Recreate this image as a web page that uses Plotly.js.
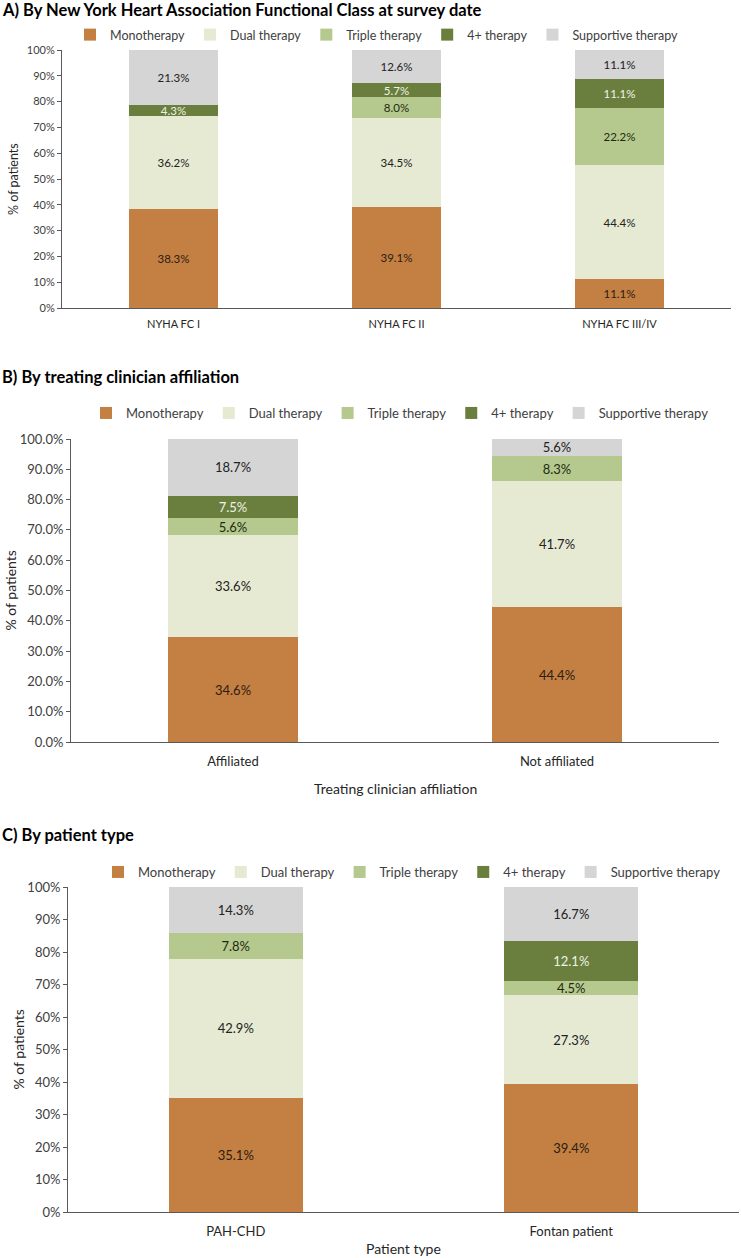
<!DOCTYPE html>
<html><head><meta charset="utf-8">
<script src="https://cdn.plot.ly/plotly-3.0.1.min.js"></script>
<style>html,body{margin:0;padding:0;background:#fff}#chart{width:741px;height:1258px}</style>
</head><body><div id="chart"></div>
<script>
const therapies = ["Monotherapy","Dual therapy","Triple therapy","4+ therapy","Supportive therapy"];
const colors = ["#C47F43","#E6EAD3","#B5C98E","#6A7F3E","#D5D5D5"];
const labelColors = ["#2b1d10","#222222","#1e2a10","#eef2e4","#222222"];

const nyhaCategories = ["NYHA FC I","NYHA FC II","NYHA FC III/IV"];
const nyhaMono = [38.3, 39.1, 11.1];
const nyhaDual = [36.2, 34.5, 44.4];
const nyhaTriple = [null, 8.0, 22.2];
const nyhaFour = [4.3, 5.7, 11.1];
const nyhaSupportive = [21.3, 12.6, 11.1];

const affCategories = ["Affiliated","Not affiliated"];
const affMono = [34.6, 44.4];
const affDual = [33.6, 41.7];
const affTriple = [5.6, 8.3];
const affFour = [7.5, null];
const affSupportive = [18.7, 5.6];

const typeCategories = ["PAH-CHD","Fontan patient"];
const typeMono = [35.1, 39.4];
const typeDual = [42.9, 27.3];
const typeTriple = [7.8, 4.5];
const typeFour = [null, 12.1];
const typeSupportive = [14.3, 16.7];

const W = 741, H = 1258;
const FONT = "Lato, 'Open Sans', sans-serif";
const px = p => p / W;
const py = p => 1 - p / H;

const panels = [
  {cats: nyhaCategories, series: [nyhaMono, nyhaDual, nyhaTriple, nyhaFour, nyhaSupportive],
   box: {l: 62, r: 731, t: 50, b: 308}, sfx: "", leg: "legend",
   title: "A) By New York Heart Association Functional Class at survey date", titleY: 10,
   legendX: 70, legendY: 35, legFont: 12.5, tickFont: 11, labelFont: 11.5, ytitleFont: 12.5, ytitleX: 13,
   tickformat: ".0f", xtitle: null, standoff: 6},
  {cats: affCategories, series: [affMono, affDual, affTriple, affFour, affSupportive],
   box: {l: 71, r: 719, t: 439, b: 742}, sfx: "2", leg: "legend2",
   title: "B) By treating clinician affiliation", titleY: 377,
   legendX: 86, legendY: 413, legFont: 13, tickFont: 13, labelFont: 13, ytitleFont: 14, ytitleX: 10,
   tickformat: ".1f", xtitle: "Treating clinician affiliation", xtitleY: 788, standoff: 7},
  {cats: typeCategories, series: [typeMono, typeDual, typeTriple, typeFour, typeSupportive],
   box: {l: 68, r: 739, t: 887, b: 1212}, sfx: "3", leg: "legend3",
   title: "C) By patient type", titleY: 835,
   legendX: 98, legendY: 872, legFont: 13, tickFont: 13, labelFont: 13, ytitleFont: 14, ytitleX: 18,
   tickformat: ".0f", xtitle: "Patient type", xtitleY: 1248, standoff: 7}
];

const traces = [];
const layout = {
  width: W, height: H,
  margin: {l: 0, r: 0, t: 0, b: 0},
  paper_bgcolor: "#fff", plot_bgcolor: "#fff",
  barmode: "stack", bargap: 0.6,
  font: {family: FONT, color: "#262626"},
  showlegend: true,
  annotations: []
};

panels.forEach(p => {
  therapies.forEach((name, i) => {
    traces.push({
      type: "bar", name: name, x: p.cats, y: p.series[i],
      xaxis: "x" + p.sfx, yaxis: "y" + p.sfx, legend: p.leg,
      marker: {color: colors[i], line: {width: 0}},
      texttemplate: "%{y:.1f}%", textposition: "inside", insidetextanchor: "middle",
      textangle: 0, constraintext: "none",
      textfont: {family: FONT, size: p.labelFont, color: labelColors[i]},
      hoverinfo: "skip"
    });
  });
  layout["xaxis" + p.sfx] = {
    domain: [px(p.box.l), px(p.box.r)], anchor: "y" + p.sfx,
    showline: true, linecolor: "#595959", linewidth: 1,
    ticks: "", showgrid: false, zeroline: false, ticklabelstandoff: p.standoff,
    tickfont: {family: FONT, size: p.tickFont, color: "#262626"},
    fixedrange: true
  };
  layout["yaxis" + p.sfx] = {
    domain: [py(p.box.b), py(p.box.t)], anchor: "x" + p.sfx,
    range: [0, 100], dtick: 10, tick0: 0,
    tickformat: p.tickformat, ticksuffix: "%",
    showline: true, linecolor: "#595959", linewidth: 1,
    ticks: "outside", ticklen: 4, tickcolor: "#595959",
    showgrid: false, zeroline: false,
    tickfont: {family: FONT, size: p.tickFont, color: "#404040"},
    fixedrange: true
  };
  layout[p.leg] = {
    orientation: "h", x: px(p.legendX), xanchor: "left",
    y: py(p.legendY), yanchor: "middle",
    font: {family: FONT, size: p.legFont, color: "#404040"},
    bgcolor: "rgba(0,0,0,0)", traceorder: "normal",
    itemclick: false, itemdoubleclick: false
  };
  layout.annotations.push({
    xref: "paper", yref: "paper", x: 0, y: py(p.titleY), xanchor: "left", yanchor: "middle",
    text: "<b>" + p.title + "</b>", showarrow: false,
    font: {family: FONT, size: 16.5, color: "#000"}
  });
  layout.annotations.push({
    xref: "paper", yref: "paper", x: px(p.ytitleX), y: py((p.box.t + p.box.b) / 2),
    xanchor: "center", yanchor: "middle", textangle: -90,
    text: "% of patients", showarrow: false,
    font: {family: FONT, size: p.ytitleFont, color: "#262626"}
  });
  if (p.xtitle) {
    layout.annotations.push({
      xref: "paper", yref: "paper", x: px((p.box.l + p.box.r) / 2), y: py(p.xtitleY),
      xanchor: "center", yanchor: "middle",
      text: p.xtitle, showarrow: false,
      font: {family: FONT, size: 14, color: "#262626"}
    });
  }
});

Plotly.newPlot("chart", traces, layout, {displayModeBar: false, staticPlot: true});
</script>
</body></html>
